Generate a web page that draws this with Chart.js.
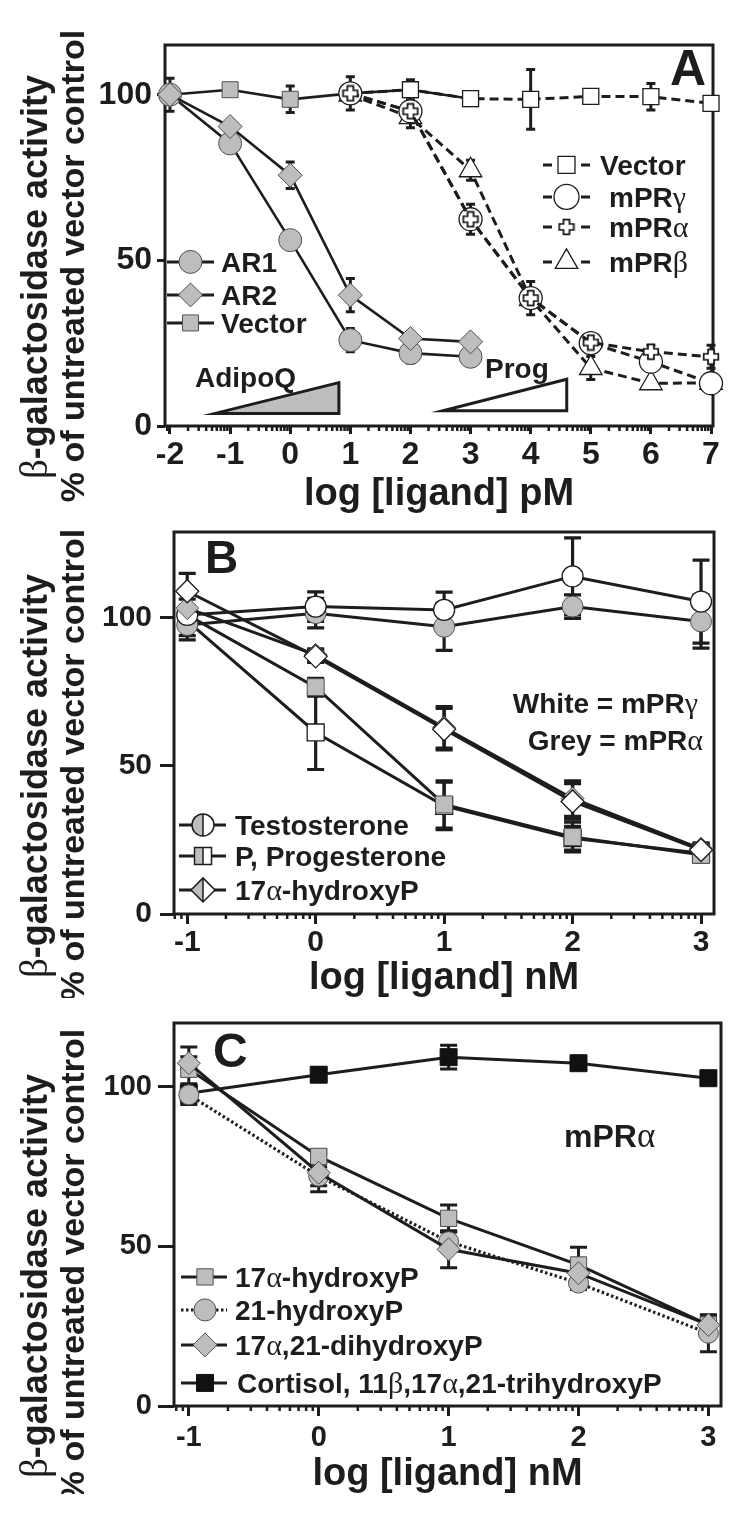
<!DOCTYPE html>
<html>
<head>
<meta charset="utf-8">
<script src="https://cdn.jsdelivr.net/npm/chart.js@4.4.1/dist/chart.umd.min.js"></script>
<style>
html, body { margin:0; padding:0; background:#ffffff; }
body { width:750px; height:1515px; position:relative; overflow:hidden; }
canvas { position:absolute; left:0; }
</style>
</head>
<body>
<canvas id="panelA" width="750" height="514" style="top:0px"></canvas>
<canvas id="panelB" width="750" height="493" style="top:505px"></canvas>
<canvas id="panelC" width="750" height="494" style="top:1000px"></canvas>
<script>
// ---------------- shared text ----------------
const yTitleLines = ['β-galactosidase activity', '% of untreated vector control'];
const xTitleA = 'log [ligand] pM';
const xTitleNM = 'log [ligand] nM';
const yTicks = [0, 50, 100];

// ---------------- Panel A data ----------------
const xTicksA = [-2, -1, 0, 1, 2, 3, 4, 5, 6, 7];
const xAdipoQ = [-2, -1, 0, 1, 2, 3];
const xProg = [1, 2, 3, 4, 5, 6, 7];
const ar1 = [100, 85.3, 56.1, 25.9, 22.0, 20.9];
const ar1Err = [0, 0, 0, 3.5, 3, 0];
const ar2 = [100, 90.4, 75.7, 39.5, 26.4, 25.4];
const ar2Err = [0, 0, 4, 5, 2, 0];
const vectorAdipoQ = [100, 101.5, 98.6, 100.4, 101.5, 98.8];
const vectorAdipoQErr = [5, 0, 4, 0, 3, 0];
const vectorProg = [100.4, 101.5, 98.8, 98.6, 99.5, 99.4, 97.4];
const vectorProgErr = [0, 0, 1, 9, 2, 4, 0];
const mprGammaA = [100.4, 95.0, 62.4, 38.6, 25.0, 19.4, 12.9];
const mprGammaAErr = [5, 5, 4.5, 5, 1.5, 1, 0];
const mprAlphaA = [100.4, 95.0, 62.4, 38.6, 25.2, 22.4, 20.9];
const mprAlphaAErr = [0, 0, 0, 0, 0, 2, 3.5];
const mprBetaA = [100, 93.2, 77.2, 38.3, 17.5, 12.9, 13.0];
const mprBetaAErr = [0, 0, 3, 0, 3.5, 1, 0];
const legendA1 = ['AR1', 'AR2', 'Vector'];
const legendA2 = ['Vector', 'mPRγ', 'mPRα', 'mPRβ'];
const wedgeLabels = ['AdipoQ', 'Prog'];

// ---------------- Panel B data ----------------
const xTicksNM = [-1, 0, 1, 2, 3];
const xNM = [-1, 0, 1, 2, 3];
const testoGamma = [101, 103.8, 102.7, 114, 105.5];
const testoGammaErr = [0, 5, 6, 13, 14];
const testoAlpha = [97.6, 101.6, 97, 103.8, 98.8];
const testoAlphaErr = [5, 5, 8, 4, 9];
const progGamma = [99, 61.3, 36.5, 25.6, 20.5];
const progGammaErr = [5, 12.5, 8, 4, 3];
const progAlpha = [101, 76.6, 37, 26, 20];
const progAlphaErr = [0, 3, 8, 5, 2];
const ohpGamma = [109, 87, 62.4, 38, 21.6];
const ohpGammaErr = [6, 2, 7, 6, 2];
const ohpAlpha = [103.3, 87.5, 63, 39, 22];
const ohpAlphaErr = [3, 2, 7, 6, 2];
const legendB = ['Testosterone', 'P, Progesterone', '17α-hydroxyP'];
const noteB = ['White = mPRγ', 'Grey = mPRα'];

// ---------------- Panel C data ----------------
const cortisol = [98, 103.8, 109.3, 107.4, 102.7];
const cortisolErr = [3, 2, 3.7, 1.5, 1.5];
const ohp17 = [105.5, 78.2, 58.8, 44.2, 25.4];
const ohp17Err = [7, 2, 4.2, 5.5, 3];
const ohp21 = [97.5, 72, 51.5, 38.5, 22.8];
const ohp21Err = [3, 3, 3, 2, 5.8];
const diOhp = [107.4, 73.1, 49.1, 41.6, 25.4];
const diOhpErr = [2, 6, 5.8, 2, 2];
const legendC = ['17α-hydroxyP', '21-hydroxyP', '17α,21-dihydroxyP', 'Cortisol, 11β,17α,21-trihydroxyP'];
const noteC = 'mPRα';

// ---------------- styling helpers ----------------
const INK = '#1d1d1d';
const GREY = '#bdbdbd';
const GREY_EDGE = '#505050';
const SANS = "'Liberation Sans', Arial, Helvetica, sans-serif";
const SERIF = "'Liberation Serif', 'Times New Roman', serif";
const DASH = [9, 5];
const DOT = [2.5, 2.5];

function makePlus(size, arm, lw) {
  const c = document.createElement('canvas');
  c.width = size; c.height = size;
  const g = c.getContext('2d');
  const m = size / 2, a = arm / 2, L = size / 2 - lw;
  g.beginPath();
  g.moveTo(m - a, m - L); g.lineTo(m + a, m - L); g.lineTo(m + a, m - a); g.lineTo(m + L, m - a);
  g.lineTo(m + L, m + a); g.lineTo(m + a, m + a); g.lineTo(m + a, m + L); g.lineTo(m - a, m + L);
  g.lineTo(m - a, m + a); g.lineTo(m - L, m + a); g.lineTo(m - L, m - a); g.lineTo(m - a, m - a);
  g.closePath();
  g.fillStyle = '#ffffff'; g.fill();
  g.lineWidth = lw; g.strokeStyle = '#111111'; g.stroke();
  return c;
}
const PLUS = makePlus(18, 6, 1.7);

function shapePath(ctx, style, x, y, r) {
  ctx.beginPath();
  if (style === 'circle') ctx.arc(x, y, r, 0, Math.PI * 2);
  else if (style === 'rect') { const s = r * Math.SQRT1_2; ctx.rect(x - s, y - s, 2 * s, 2 * s); }
  else if (style === 'rectRot') { ctx.moveTo(x - r, y); ctx.lineTo(x, y - r); ctx.lineTo(x + r, y); ctx.lineTo(x, y + r); ctx.closePath(); }
  else if (style === 'triangle') {
    for (let k = 0; k < 3; k++) {
      const t = k * 2 * Math.PI / 3;
      const px = x + Math.sin(t) * r, py = y - Math.cos(t) * r;
      if (k) ctx.lineTo(px, py); else ctx.moveTo(px, py);
    }
    ctx.closePath();
  }
}
function drawMarker(ctx, m, x, y) {
  if (m.style === 'plus') { ctx.drawImage(PLUS, x - PLUS.width / 2, y - PLUS.height / 2); return; }
  ctx.save();
  ctx.setLineDash([]);
  if (m.half) {
    shapePath(ctx, m.style, x, y, m.r);
    ctx.save(); ctx.clip();
    ctx.fillStyle = '#ffffff'; ctx.fillRect(x - m.r - 2, y - m.r - 2, 2 * m.r + 4, 2 * m.r + 4);
    ctx.fillStyle = GREY; ctx.fillRect(x - m.r - 2, y - m.r - 2, m.r + 2, 2 * m.r + 4);
    ctx.restore();
    ctx.strokeStyle = INK; ctx.lineWidth = 1.5; ctx.stroke();
    const h = m.style === 'rect' ? m.r * Math.SQRT1_2 : m.r;
    ctx.beginPath(); ctx.moveTo(x, y - h); ctx.lineTo(x, y + h); ctx.stroke();
  } else {
    shapePath(ctx, m.style, x, y, m.r);
    ctx.fillStyle = m.fill; ctx.fill();
    ctx.strokeStyle = m.edge; ctx.lineWidth = m.bw; ctx.stroke();
  }
  ctx.restore();
}

const GREEK = /[αβγ]/;
function drawRich(ctx, text, x, y, size, align) {
  const runs = [];
  for (const ch of text) {
    const g = GREEK.test(ch);
    if (runs.length && runs[runs.length - 1].g === g) runs[runs.length - 1].t += ch;
    else runs.push({t: ch, g});
  }
  const fontFor = g => g ? `${Math.round(size * 1.08)}px ${SERIF}` : `bold ${size}px ${SANS}`;
  let w = 0;
  runs.forEach(r => { ctx.font = fontFor(r.g); r.w = ctx.measureText(r.t).width; w += r.w; });
  let cx = align === 'right' ? x - w : align === 'center' ? x - w / 2 : x;
  ctx.textAlign = 'left';
  runs.forEach(r => { ctx.font = fontFor(r.g); ctx.fillText(r.t, cx, y); cx += r.w; });
}

// ---------------- plugins ----------------
const errorBarsPlugin = {
  id: 'errorBars',
  beforeDatasetsDraw(chart, args, o) {
    const ctx = chart.ctx, xs = chart.scales.x, ys = chart.scales.y;
    ctx.save();
    ctx.strokeStyle = INK; ctx.lineWidth = o.width; ctx.lineCap = 'butt';
    chart.data.datasets.forEach(ds => {
      if (!ds.err) return;
      ds.data.forEach((p, i) => {
        const e = ds.err[i];
        if (!e) return;
        const px = xs.getPixelForValue(p.x);
        const yt = ys.getPixelForValue(p.y + e), yb = ys.getPixelForValue(p.y - e);
        ctx.beginPath();
        ctx.moveTo(px, yt); ctx.lineTo(px, yb);
        ctx.moveTo(px - o.cap, yt); ctx.lineTo(px + o.cap, yt);
        ctx.moveTo(px - o.cap, yb); ctx.lineTo(px + o.cap, yb);
        ctx.stroke();
      });
    });
    ctx.restore();
  }
};

const decorPlugin = {
  id: 'decor',
  beforeDatasetsDraw(chart, args, o) {
    const ctx = chart.ctx, a = chart.chartArea, xs = chart.scales.x, ys = chart.scales.y;
    ctx.save();
    ctx.strokeStyle = INK;
    // minor log ticks
    ctx.lineWidth = 2.5;
    ctx.beginPath();
    for (let k = Math.floor(xs.min); k < xs.max; k++) {
      for (let m = 2; m <= 9; m++) {
        const v = k + Math.log10(m);
        if (v < xs.min || v > xs.max) continue;
        const px = xs.getPixelForValue(v);
        ctx.moveTo(px, a.bottom); ctx.lineTo(px, a.bottom + o.minorLen);
      }
    }
    ctx.stroke();
    // frame
    ctx.lineWidth = o.frameWidth;
    ctx.strokeRect(a.left, a.top, a.right - a.left, a.bottom - a.top);
    // concentration wedges
    (o.wedges || []).forEach(w => {
      const x0 = xs.getPixelForValue(w.x0), x1 = xs.getPixelForValue(w.x1);
      const y0 = ys.getPixelForValue(w.y0), y1 = ys.getPixelForValue(w.y1);
      ctx.beginPath(); ctx.moveTo(x0, y0); ctx.lineTo(x1, y0); ctx.lineTo(x1, y1); ctx.closePath();
      ctx.fillStyle = w.fill; ctx.fill();
      ctx.lineWidth = 3; ctx.lineJoin = 'miter'; ctx.stroke();
    });
    ctx.restore();
  },
  afterDraw(chart, args, o) {
    const ctx = chart.ctx;
    ctx.save();
    ctx.fillStyle = INK;
    ctx.textBaseline = 'alphabetic';
    // panel letter
    ctx.font = `bold ${o.letter.size}px ${SANS}`;
    ctx.textAlign = 'left';
    ctx.fillText(o.letter.text, o.letter.x, o.letter.y);
    // y title (two lines, rotated)
    yTitleLines.forEach((line, i) => {
      ctx.save();
      ctx.translate(o.yTitle.xs[i], o.yTitle.cy[i]);
      ctx.rotate(-Math.PI / 2);
      ctx.textBaseline = 'middle';
      drawRich(ctx, line, 0, 0, o.yTitle.size[i], 'center');
      ctx.restore();
    });
    // legends
    (o.legends || []).forEach(L => {
      L.items.forEach((it, i) => {
        const by = L.y[i];
        const my = by - L.size * 0.36;
        ctx.save();
        ctx.strokeStyle = INK; ctx.lineWidth = 3;
        ctx.beginPath();
        if (it.dash === 'dash') {
          ctx.moveTo(L.x0, my); ctx.lineTo(L.x0 + 9, my);
          ctx.moveTo(L.x1 - 9, my); ctx.lineTo(L.x1, my);
        } else {
          if (it.dash === 'dot') ctx.setLineDash(DOT);
          ctx.moveTo(L.x0, my); ctx.lineTo(L.x1, my);
        }
        ctx.stroke();
        ctx.restore();
        drawMarker(ctx, it.marker, L.mx, my);
        ctx.fillStyle = INK;
        ctx.textBaseline = 'alphabetic';
        drawRich(ctx, it.label, it.tx !== undefined ? it.tx : L.tx, by, L.size, 'left');
      });
    });
    // free notes
    (o.notes || []).forEach(n => {
      ctx.fillStyle = INK; ctx.textBaseline = 'alphabetic';
      drawRich(ctx, n.text, n.x, n.y, n.size, n.align);
    });
    ctx.restore();
  }
};

// ---------------- dataset builder ----------------
function pts(xs, ys) { return xs.map((x, i) => ({x: x, y: ys[i]})); }
function series(label, xs, ys, err, st) {
  return Object.assign({
    label: label, data: pts(xs, ys), err: err,
    borderColor: INK, borderWidth: 3, tension: 0, fill: false, clip: false,
    pointBorderColor: INK, pointBorderWidth: 1.3, pointBackgroundColor: '#ffffff'
  }, st);
}
const greyPt = {pointBackgroundColor: GREY, pointBorderColor: GREY_EDGE, pointBorderWidth: 1};
const whitePt = {pointBackgroundColor: '#ffffff', pointBorderColor: INK, pointBorderWidth: 1.3};

function buildChart(id, p) {
  const tickFont = {family: SANS, weight: 'bold', size: p.tickSize, lineHeight: 1};
  return new Chart(document.getElementById(id), {
    type: 'line',
    data: {datasets: p.datasets},
    options: {
      responsive: false, animation: false, devicePixelRatio: 1, events: [],
      layout: {padding: {top: p.padTop, right: p.padRight, bottom: 0, left: 0}},
      plugins: {
        legend: {display: false}, tooltip: {enabled: false}, title: {display: false},
        errorBars: p.errorBars, decor: p.decor
      },
      scales: {
        x: {
          type: 'linear', min: p.xMin, max: p.xMax,
          afterBuildTicks: s => { s.ticks = p.xTicks.map(v => ({value: v})); },
          afterFit: s => { s.height = p.xAxisH; },
          ticks: {autoSkip: false, maxRotation: 0, minRotation: 0, padding: p.xTickPad, color: INK, font: tickFont, callback: v => String(v)},
          grid: {display: true, drawOnChartArea: false, drawTicks: true, tickLength: p.xTickLen, tickWidth: 3, tickColor: INK},
          border: {display: false},
          title: {display: true, text: p.xTitle, color: INK, padding: 0, font: {family: SANS, weight: 'bold', size: p.xTitleSize, lineHeight: 1}}
        },
        y: {
          type: 'linear', min: 0, max: p.yMax,
          afterBuildTicks: s => { s.ticks = yTicks.map(v => ({value: v})); },
          afterFit: s => { s.width = p.yAxisW; },
          ticks: {autoSkip: false, padding: p.yTickPad, color: INK, font: tickFont, callback: v => String(v)},
          grid: {display: true, drawOnChartArea: false, drawTicks: true, tickLength: p.yTickLen, tickWidth: 3, tickColor: INK},
          border: {display: false},
          title: {display: false}
        }
      }
    },
    plugins: [errorBarsPlugin, decorPlugin]
  });
}

// ---------------- Panel A ----------------
buildChart('panelA', {
  padTop: 45, padRight: 37, yAxisW: 165, xAxisH: 88,
  xMin: -2.083, xMax: 7.033, yMax: 115, xTicks: xTicksA,
  tickSize: 32, xTickLen: 8, xTickPad: 5, yTickLen: 8, yTickPad: 5,
  xTitle: xTitleA, xTitleSize: 38,
  errorBars: {width: 3, cap: 4.5},
  datasets: [
    series(legendA2[2], xProg, mprAlphaA, mprAlphaAErr, {pointStyle: PLUS, pointRadius: 9, borderDash: DASH}),
    series(legendA2[1], xProg, mprGammaA, mprGammaAErr, Object.assign({pointStyle: 'circle', pointRadius: 11.5, borderDash: DASH}, whitePt)),
    series(legendA2[3], xProg, mprBetaA, mprBetaAErr, Object.assign({pointStyle: 'triangle', pointRadius: 13, borderDash: DASH}, whitePt)),
    series(legendA2[0], xProg, vectorProg, vectorProgErr, Object.assign({pointStyle: 'rect', pointRadius: 11.3, borderDash: DASH}, whitePt)),
    series(legendA1[1], xAdipoQ, ar2, ar2Err, Object.assign({pointStyle: 'rectRot', pointRadius: 12, borderWidth: 2.6}, greyPt)),
    series(legendA1[0], xAdipoQ, ar1, ar1Err, Object.assign({pointStyle: 'circle', pointRadius: 11.5, borderWidth: 2.6}, greyPt)),
    series(legendA1[2], xAdipoQ, vectorAdipoQ, vectorAdipoQErr, Object.assign({pointStyle: 'rect', pointRadius: 11.3, borderWidth: 2.6}, greyPt))
  ],
  decor: {
    minorLen: 5, frameWidth: 3,
    letter: {text: 'A', x: 670, y: 85, size: 50},
    yTitle: {xs: [37, 75], cy: [277, 266], size: [36, 34]},
    wedges: [
      {x0: -1.25, x1: 0.81, y0: 3.8, y1: 13.1, fill: GREY},
      {x0: 2.54, x1: 4.6, y0: 4.6, y1: 14.1, fill: '#ffffff'}
    ],
    notes: [
      {text: wedgeLabels[0], x: 195, y: 387, size: 28, align: 'left'},
      {text: wedgeLabels[1], x: 485, y: 378, size: 28, align: 'left'}
    ],
    legends: [
      {x0: 167, x1: 214, mx: 190.5, tx: 221, size: 28, y: [272, 305, 333],
       items: [
         {label: legendA1[0], marker: {style: 'circle', r: 11.5, fill: GREY, edge: GREY_EDGE, bw: 1}},
         {label: legendA1[1], marker: {style: 'rectRot', r: 12, fill: GREY, edge: GREY_EDGE, bw: 1}},
         {label: legendA1[2], marker: {style: 'rect', r: 11.3, fill: GREY, edge: GREY_EDGE, bw: 1}}
       ]},
      {x0: 543, x1: 590, mx: 566.5, tx: 609, size: 28, y: [175, 207, 237, 272],
       items: [
         {label: legendA2[0], dash: 'dash', tx: 600, marker: {style: 'rect', r: 12, fill: '#fff', edge: INK, bw: 1.3}},
         {label: legendA2[1], dash: 'dash', marker: {style: 'circle', r: 12.5, fill: '#fff', edge: INK, bw: 1.3}},
         {label: legendA2[2], dash: 'dash', marker: {style: 'plus'}},
         {label: legendA2[3], dash: 'dash', marker: {style: 'triangle', r: 13, fill: '#fff', edge: INK, bw: 1.3}}
       ]}
    ]
  }
});

// ---------------- Panel B ----------------
buildChart('panelB', {
  padTop: 27, padRight: 36, yAxisW: 174, xAxisH: 84,
  xMin: -1.103, xMax: 3.101, yMax: 129, xTicks: xTicksNM,
  tickSize: 30, xTickLen: 10, xTickPad: 4, yTickLen: 14, yTickPad: 8,
  xTitle: xTitleNM, xTitleSize: 38,
  errorBars: {width: 3.2, cap: 8.5},
  datasets: [
    series('17α-hydroxyP mPRγ', xNM, ohpGamma, ohpGammaErr, Object.assign({pointStyle: 'rectRot', pointRadius: 11.5}, whitePt)),
    series('17α-hydroxyP mPRα', xNM, ohpAlpha, ohpAlphaErr, Object.assign({pointStyle: 'rectRot', pointRadius: 11.5}, greyPt)),
    series('Testosterone mPRγ', xNM, testoGamma, testoGammaErr, Object.assign({pointStyle: 'circle', pointRadius: 10.5}, whitePt)),
    series('Testosterone mPRα', xNM, testoAlpha, testoAlphaErr, Object.assign({pointStyle: 'circle', pointRadius: 10.5}, greyPt)),
    series('Progesterone mPRα', xNM, progAlpha, progAlphaErr, Object.assign({pointStyle: 'rect', pointRadius: 12}, greyPt)),
    series('Progesterone mPRγ', xNM, progGamma, progGammaErr, Object.assign({pointStyle: 'rect', pointRadius: 12}, whitePt))
  ],
  decor: {
    minorLen: 5, frameWidth: 3,
    letter: {text: 'B', x: 205, y: 68, size: 46},
    yTitle: {xs: [37, 75], cy: [271, 260], size: [36, 34]},
    notes: [
      {text: noteB[0], x: 698, y: 208, size: 28, align: 'right'},
      {text: noteB[1], x: 703, y: 245, size: 28, align: 'right'}
    ],
    legends: [
      {x0: 179, x1: 226, mx: 203, tx: 235, size: 28, y: [330, 361, 395],
       items: [
         {label: legendB[0], marker: {style: 'circle', r: 11, half: true}},
         {label: legendB[1], marker: {style: 'rect', r: 12, half: true}},
         {label: legendB[2], marker: {style: 'rectRot', r: 12, half: true}}
       ]}
    ]
  }
});

// ---------------- Panel C ----------------
buildChart('panelC', {
  padTop: 23, padRight: 29, yAxisW: 174, xAxisH: 88,
  xMin: -1.114, xMax: 3.097, yMax: 120, xTicks: xTicksNM,
  tickSize: 29, xTickLen: 10, xTickPad: 7, yTickLen: 16, yTickPad: 6,
  xTitle: xTitleNM, xTitleSize: 38,
  errorBars: {width: 3, cap: 8.5},
  datasets: [
    series(legendC[2], xNM, diOhp, diOhpErr, Object.assign({pointStyle: 'rectRot', pointRadius: 11.5}, greyPt)),
    series(legendC[1], xNM, ohp21, ohp21Err, Object.assign({pointStyle: 'circle', pointRadius: 10, borderDash: DOT, borderWidth: 3.2}, greyPt)),
    series(legendC[0], xNM, ohp17, ohp17Err, Object.assign({pointStyle: 'rect', pointRadius: 11.5}, greyPt)),
    series(legendC[3], xNM, cortisol, cortisolErr, {pointStyle: 'rect', pointRadius: 12, pointBackgroundColor: '#111111', pointBorderColor: '#111111', pointBorderWidth: 1})
  ],
  decor: {
    minorLen: 5, frameWidth: 3,
    letter: {text: 'C', x: 213, y: 67, size: 48},
    yTitle: {xs: [37, 75], cy: [276, 265], size: [36, 34]},
    notes: [
      {text: noteC, x: 564, y: 147, size: 32, align: 'left'}
    ],
    legends: [
      {x0: 181, x1: 227, mx: 205, tx: 235, size: 28, y: [287, 320, 355, 393],
       items: [
         {label: legendC[0], marker: {style: 'rect', r: 11.5, fill: GREY, edge: GREY_EDGE, bw: 1}},
         {label: legendC[1], dash: 'dot', marker: {style: 'circle', r: 11, fill: GREY, edge: GREY_EDGE, bw: 1}},
         {label: legendC[2], marker: {style: 'rectRot', r: 12, fill: GREY, edge: GREY_EDGE, bw: 1}},
         {label: legendC[3], tx: 237, marker: {style: 'rect', r: 12, fill: '#111111', edge: '#111111', bw: 1}}
       ]}
    ]
  }
});
</script>
</body>
</html>
